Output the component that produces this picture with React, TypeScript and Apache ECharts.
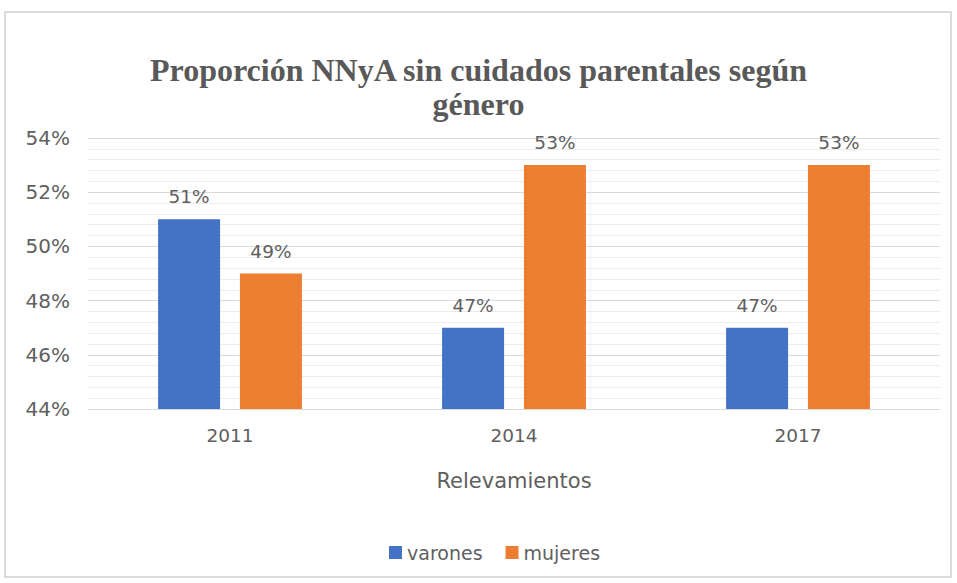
import React, { useEffect, useRef } from "react";
import * as echarts from "echarts";

const categories = ["2011", "2014", "2017"];
const varones = [51, 47, 47];
const mujeres = [49, 53, 53];
const titleText = "Proporción NNyA sin cuidados parentales según\ngénero";
const xAxisName = "Relevamientos";

export default function App() {
  const ref = useRef<HTMLDivElement>(null);
  useEffect(() => {
    document.body.style.margin = "0";
    const chart = echarts.init(ref.current!, null, { renderer: "svg" });
    const sans = "'DejaVu Sans', sans-serif";
    const textColor = "#606060";
    const labelStyle = {
      show: true,
      position: "top",
      distance: 13,
      formatter: "{c}%",
      fontFamily: sans,
      fontSize: 18.5,
      color: textColor,
    };
    chart.setOption({
      animation: false,
      backgroundColor: "#ffffff",
      title: {
        text: titleText,
        left: "center",
        top: 48,
        textStyle: {
          fontFamily: "'Liberation Serif', serif",
          fontWeight: "bold",
          fontSize: 32,
          lineHeight: 34,
          color: "#595959",
        },
      },
      graphic: [
        {
          type: "rect",
          shape: { x: 5, y: 12, width: 946, height: 565 },
          style: { fill: "none", stroke: "#d0d0d0", lineWidth: 1.5 },
          silent: true,
        },
      ],
      legend: {
        top: 538,
        left: 384,
        itemWidth: 13,
        itemHeight: 13,
        itemGap: 23,
        icon: "rect",
        textStyle: { fontFamily: sans, fontSize: 19, color: textColor },
        data: ["varones", "mujeres"],
      },
      grid: { left: 88, right: 17, top: 138, bottom: 174 },
      xAxis: {
        type: "category",
        data: categories,
        name: xAxisName,
        nameLocation: "middle",
        nameGap: 61,
        nameTextStyle: { fontFamily: sans, fontSize: 21, color: textColor },
        axisLine: { show: true, lineStyle: { color: "#d9d9d9" } },
        axisTick: { show: false },
        axisLabel: { margin: 17, fontFamily: sans, fontSize: 18.5, color: textColor },
      },
      yAxis: {
        type: "value",
        min: 44,
        max: 54,
        interval: 2,
        axisLine: { show: false },
        axisTick: { show: false },
        axisLabel: {
          formatter: "{value}%",
          fontFamily: sans,
          fontSize: 20,
          color: textColor,
          margin: 18,
        },
        splitLine: { show: true, lineStyle: { color: "#d9d9d9", width: 1 } },
        minorTick: { show: false, splitNumber: 5 },
        minorSplitLine: { show: true, lineStyle: { color: "#ececec", width: 1 } },
      },
      series: [
        {
          name: "varones",
          type: "bar",
          data: varones,
          barWidth: 62,
          barGap: "32%",
          itemStyle: { color: "#4472C4" },
          label: labelStyle,
        },
        {
          name: "mujeres",
          type: "bar",
          data: mujeres,
          barWidth: 62,
          barGap: "32%",
          itemStyle: { color: "#ED7D31" },
          label: labelStyle,
        },
      ],
    });
    return () => chart.dispose();
  }, []);
  return (
    <div
      ref={ref}
      style={{ position: "fixed", left: 0, top: 0, width: 957, height: 583 }}
    />
  );
}
